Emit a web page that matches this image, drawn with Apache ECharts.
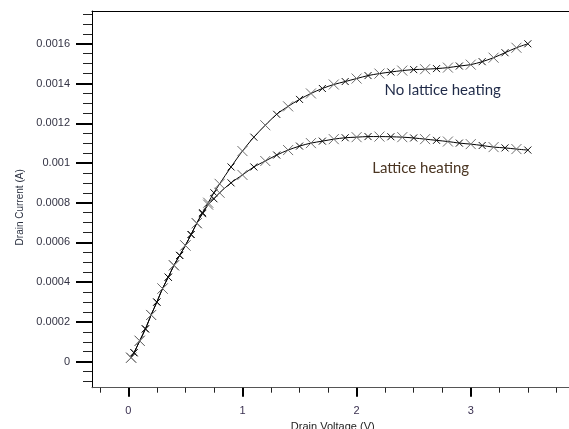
<!DOCTYPE html>
<html>
<head>
<meta charset="utf-8">
<script src="https://cdn.jsdelivr.net/npm/echarts@6/dist/echarts.min.js"></script>
<style>html,body{margin:0;padding:0;background:#fff;}#c{width:569px;height:429px;}</style>
</head>
<body>
<div id="c"></div>
<script>
// Drain voltage (V)
var drainVoltage = [0.025,0.05,0.1,0.15,0.2,0.25,0.3,0.35,0.4,0.45,0.5,0.55,0.6,0.65,0.7,0.75,0.8,
  0.9,1.0,1.1,1.2,1.3,1.4,1.5,1.6,1.7,1.8,1.9,2.0,2.1,2.2,2.3,2.4,2.5,2.6,2.7,2.8,2.9,3.0,3.1,3.2,3.3,3.4,3.5];
// Drain current (A), no lattice heating
var currentNoHeating = [0.00002,0.000045,0.000105,0.000165,0.000235,0.0003,0.000368,0.000425,0.000485,0.000535,0.000585,0.00064,0.000697,0.00075,0.0008,0.00085,0.000895,
  0.00098,0.00106,0.00113,0.00119,0.001245,0.001285,0.00132,0.00135,0.001375,0.001395,0.00141,0.001425,0.00144,0.00145,0.001458,0.001465,0.00147,0.001472,0.001475,0.00148,0.001488,0.001495,0.00151,0.00153,0.001555,0.00158,0.0016];
// Drain current (A), lattice heating
var currentHeating = [0.00002,0.000045,0.000105,0.000165,0.000235,0.0003,0.000368,0.000425,0.000485,0.000535,0.000585,0.00064,0.000697,0.000745,0.00079,0.00082,0.00085,
  0.0009,0.00094,0.00098,0.00101,0.00104,0.001065,0.001085,0.0011,0.00111,0.00112,0.001127,0.00113,0.001133,0.001133,0.001132,0.00113,0.001126,0.00112,0.001114,0.001108,0.0011,0.001095,0.001088,0.00108,0.001076,0.00107,0.001065];

var seriesNames = ['No lattice heating', 'Lattice heating'];
var xTicks = [0, 1, 2, 3];
var xTickLabels = ['0', '1', '2', '3'];
var yTicks = [0, 0.0002, 0.0004, 0.0006, 0.0008, 0.001, 0.0012, 0.0014, 0.0016];
var yTickLabels = ['0', '0.0002', '0.0004', '0.0006', '0.0008', '0.001', '0.0012', '0.0014', '0.0016'];
var xName = 'Drain Voltage (V)';
var yName = 'Drain Current (A)';

var X_MIN = -0.318, X_MAX = 3.9, Y_MIN = -0.000131, Y_MAX = 0.001765;

var xMinor = [];
for (var i = -1; i <= 15; i++) { if (i % 4 !== 0) xMinor.push(i * 0.25); }
var yMinor = [];
for (var j = -2; j <= 35; j++) { if (j % 4 !== 0) yMinor.push(j * 0.00005); }

// alternate grey large / black small cross markers
function points(xs, ys) {
  return xs.map(function (x, k) {
    var odd = k % 2 === 1;
    return {
      value: [x, ys[k]],
      symbolSize: odd ? 7 : 10,
      itemStyle: odd ? { color: '#111', borderColor: '#111', borderWidth: 1 } : { color: '#6e6e6e', borderColor: '#6e6e6e', borderWidth: 1 }
    };
  });
}
function lookup(ticks, labels, v) {
  var best = 0, d = Infinity;
  for (var k = 0; k < ticks.length; k++) { var dd = Math.abs(ticks[k] - v); if (dd < d) { d = dd; best = k; } }
  return labels[best];
}

var FONT = '"Liberation Sans", Arial, sans-serif';
var crossSym = 'path://M0,0L10,10M10,0L0,10';

var chart = echarts.init(document.getElementById('c'), null, { renderer: 'canvas' });
chart.setOption({
  animation: false,
  backgroundColor: '#fff',
  grid: { left: 92, top: 11, width: 481.5, height: 376.7, containLabel: false, outerBoundsMode: 'none' },
  xAxis: [
    {
      type: 'value', min: X_MIN, max: X_MAX, position: 'bottom',
      axisLine: { show: true, onZero: false, lineStyle: { color: '#555', width: 1 } },
      axisTick: { show: true, customValues: xTicks, length: 9, lineStyle: { color: '#000', width: 2 } },
      axisLabel: { show: true, customValues: xTicks, margin: 18, fontSize: 11, color: '#3a3050', fontFamily: FONT,
        formatter: function (v) { return lookup(xTicks, xTickLabels, v); } },
      splitLine: { show: false },
      name: xName, nameLocation: 'middle', nameGap: 30,
      nameTextStyle: { fontSize: 11, color: '#222', fontFamily: FONT }
    },
    {
      type: 'value', min: X_MIN, max: X_MAX, position: 'bottom',
      axisLine: { show: false, onZero: false },
      axisTick: { show: true, customValues: xMinor, length: 5, lineStyle: { color: '#222', width: 1 } },
      axisLabel: { show: false }, splitLine: { show: false }
    },
    {
      type: 'value', min: X_MIN, max: X_MAX, position: 'top',
      axisLine: { show: true, onZero: false, lineStyle: { color: '#000', width: 1 } },
      axisTick: { show: false }, axisLabel: { show: false }, splitLine: { show: false }
    }
  ],
  yAxis: [
    {
      type: 'value', min: Y_MIN, max: Y_MAX, position: 'left',
      axisLine: { show: true, onZero: false, lineStyle: { color: '#000', width: 1 } },
      axisTick: { show: true, customValues: yTicks, length: 16, lineStyle: { color: '#000', width: 2 } },
      axisLabel: { show: true, customValues: yTicks, margin: 22, fontSize: 11, color: '#333344', fontFamily: FONT,
        formatter: function (v) { return lookup(yTicks, yTickLabels, v); } },
      splitLine: { show: false },
      name: yName, nameLocation: 'middle', nameGap: 67,
      nameTextStyle: { fontSize: 10, color: '#2a3040', fontFamily: FONT, padding: [0, 16, 0, 0] }
    },
    {
      type: 'value', min: Y_MIN, max: Y_MAX, position: 'left',
      axisLine: { show: false, onZero: false },
      axisTick: { show: true, customValues: yMinor, length: 9, lineStyle: { color: '#222', width: 1 } },
      axisLabel: { show: false }, splitLine: { show: false }
    }
  ],
  series: [
    {
      name: seriesNames[0], type: 'line', xAxisIndex: 0, yAxisIndex: 0,
      data: points(drainVoltage, currentNoHeating),
      symbol: crossSym, showSymbol: true, smooth: 0.3,
      lineStyle: { color: '#000', width: 1 },
      markPoint: {
        symbol: 'circle', symbolSize: 0,
        data: [{ coord: [2.754, 0.001365] }],
        label: { show: true, position: 'inside', formatter: seriesNames[0], fontSize: 15, color: '#1f2a48', fontFamily: 'Lato, "Open Sans", sans-serif' }
      }
    },
    {
      name: seriesNames[1], type: 'line', xAxisIndex: 0, yAxisIndex: 0,
      data: points(drainVoltage, currentHeating),
      symbol: crossSym, showSymbol: true, smooth: 0.3,
      lineStyle: { color: '#000', width: 1 },
      markPoint: {
        symbol: 'circle', symbolSize: 0,
        data: [{ coord: [2.561, 0.000976] }],
        label: { show: true, position: 'inside', formatter: seriesNames[1], fontSize: 15, color: '#4a3522', fontFamily: 'Lato, "Open Sans", sans-serif' }
      }
    }
  ]
});
</script>
</body>
</html>
